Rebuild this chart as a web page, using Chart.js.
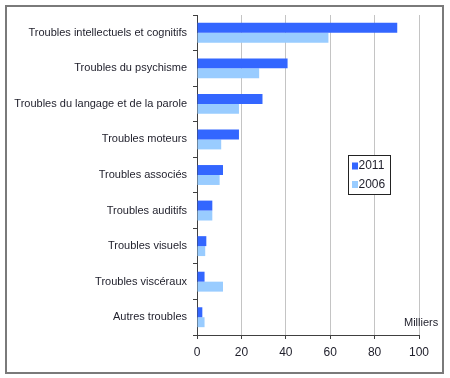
<!DOCTYPE html>
<html>
<head>
<meta charset="utf-8">
<script src="https://cdn.jsdelivr.net/npm/chart.js@4/dist/chart.umd.min.js"></script>
<style>
	html, body { margin: 0; padding: 0; background: #fff; }
	#wrap { width: 450px; height: 378px; position: relative; }
</style>
</head>
<body>
<div id="wrap"><canvas id="chart-troubles" width="450" height="378"></canvas></div>
<script>
const CATEGORIES = [
	"Troubles intellectuels et cognitifs",
	"Troubles du psychisme",
	"Troubles du langage et de la parole",
	"Troubles moteurs",
	"Troubles associés",
	"Troubles auditifs",
	"Troubles visuels",
	"Troubles viscéraux",
	"Autres troubles",
];
const VALUES_2011 = [90.2, 40.8, 29.5, 18.9, 11.7, 6.9, 4.2, 3.4, 2.4];
const VALUES_2006 = [59.2, 28.0, 18.9, 10.9, 10.2, 6.9, 3.7, 11.7, 3.4];
const X_TICKS = [0, 20, 40, 60, 80, 100];
const UNIT_LABEL = "Milliers";

const FONT = "'Liberation Sans', Arial, sans-serif";
const TEXT_COLOR = "#1e1e2a";
const AXIS_COLOR = "#404040";

// ----------------------------------------------
// Frame, legend box and unit label
// ----------------------------------------------
const decorPlugin = {
	id: "decor",
	afterDraw(chart) {
		const ctx = chart.ctx;
		ctx.save();

		// outer frame
		ctx.strokeStyle = "#7a7a7a";
		ctx.lineWidth = 2;
		ctx.strokeRect(6, 6, 437, 367);

		// legend
		ctx.fillStyle = "#fff";
		ctx.fillRect(348.5, 155.5, 42, 39);
		ctx.strokeStyle = "#222";
		ctx.lineWidth = 1;
		ctx.strokeRect(348.5, 155.5, 42, 39);
		ctx.font = "12px " + FONT;
		ctx.textBaseline = "middle";
		chart.data.datasets.forEach((ds, i) => {
			const y = 165.5 + i * 18.5;
			ctx.fillStyle = ds.backgroundColor;
			ctx.fillRect(352, y - 3, 6, 7);
			ctx.fillStyle = TEXT_COLOR;
			ctx.fillText(ds.label, 358.5, y + 0.5);
		});

		// unit
		ctx.font = "11px " + FONT;
		ctx.fillStyle = TEXT_COLOR;
		ctx.textAlign = "left";
		ctx.fillText(UNIT_LABEL, 404, 322.5);
		ctx.restore();
	},
};

const CHART_DATA = {
	labels: CATEGORIES,
	datasets: [
		{
			label: "2011",
			data: VALUES_2011,
			backgroundColor: "#3366ff",
			barPercentage: 1,
			categoryPercentage: 0.56,
		},
		{
			label: "2006",
			data: VALUES_2006,
			backgroundColor: "#99ccff",
			barPercentage: 1,
			categoryPercentage: 0.56,
		},
	],
};

const CHART_CONFIG = {
	type: "bar",
	data: CHART_DATA,
	plugins: [decorPlugin],
	options: {
		responsive: false,
		animation: false,
		indexAxis: "y",
		layout: {
			padding: { left: 0, top: 15, right: 31, bottom: 0 },
		},
		plugins: {
			legend: { display: false },
			title: { display: false },
			tooltip: { enabled: false },
		},
		scales: {
			x: {
				min: 0,
				max: 100,
				afterFit: (scale) => {
					scale.height = 43;
				},
				afterBuildTicks: (scale) => {
					scale.ticks = X_TICKS.map((v) => ({ value: v }));
				},
				border: { display: true, color: AXIS_COLOR, width: 1 },
				grid: {
					color: "#c4c4c4",
					tickColor: AXIS_COLOR,
					tickLength: 4,
				},
				ticks: {
					color: TEXT_COLOR,
					font: { family: FONT, size: 12 },
					padding: 6,
					maxRotation: 0,
				},
			},
			y: {
				afterFit: (scale) => {
					scale.width = 197;
				},
				border: { display: true, color: AXIS_COLOR, width: 1 },
				grid: {
					drawOnChartArea: false,
					offset: true,
					tickColor: AXIS_COLOR,
					tickLength: 4,
				},
				ticks: {
					color: TEXT_COLOR,
					font: { family: FONT, size: 11 },
					padding: 6,
				},
			},
		},
	},
};

const CHART_WRAPPER = document.getElementById("chart-troubles");
if (CHART_WRAPPER) {
	new Chart(CHART_WRAPPER, CHART_CONFIG);
}
</script>
</body>
</html>
